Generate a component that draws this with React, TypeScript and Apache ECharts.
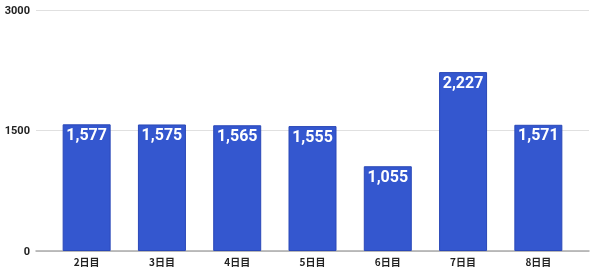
import React, { useEffect, useRef } from "react";
import * as echarts from "echarts";

const categories = ["2日目", "3日目", "4日目", "5日目", "6日目", "7日目", "8日目"];
const values = [1577, 1575, 1565, 1555, 1055, 2227, 1571];
const yTicks = [0, 1500, 3000];

export default function App() {
  const ref = useRef<HTMLDivElement>(null);
  useEffect(() => {
    const chart = echarts.init(ref.current!, null, { renderer: "svg" });
    chart.setOption({
      animation: false,
      grid: [
        { left: 49, right: 24, top: 10, bottom: 21 },
        { left: 36, right: 11, top: 10, bottom: 21 },
      ],
      xAxis: [
        {
          type: "category",
          data: categories,
          gridIndex: 0,
          axisLine: { show: false },
          axisTick: { show: false },
          axisLabel: {
            color: "#222",
            fontSize: 10,
            fontWeight: "bold",
            fontFamily: "Noto Sans CJK JP",
            margin: 5,
          },
        },
        {
          type: "value",
          gridIndex: 1,
          min: 0,
          max: 1,
          axisLine: { show: true, onZero: false, lineStyle: { color: "#aaa", width: 1.5 } },
          axisTick: { show: false },
          axisLabel: { show: false },
          splitLine: { show: false },
        },
      ],
      yAxis: [
        {
          type: "value",
          gridIndex: 0,
          min: yTicks[0],
          max: yTicks[yTicks.length - 1],
          interval: 1500,
          axisLabel: { show: false },
          splitLine: { show: false },
          axisLine: { show: false },
          axisTick: { show: false },
        },
        {
          type: "value",
          gridIndex: 1,
          min: yTicks[0],
          max: yTicks[yTicks.length - 1],
          interval: 1500,
          axisLine: { show: false },
          axisTick: { show: false },
          axisLabel: {
            color: "#222",
            fontSize: 11,
            fontWeight: "bold",
            fontFamily: "Roboto",
            margin: 6,
            formatter: (v: number) => String(v),
          },
          splitLine: { lineStyle: { color: "#e0e0e0", width: 1 } },
        },
      ],
      series: [
        {
          type: "bar",
          xAxisIndex: 0,
          yAxisIndex: 0,
          data: values,
          barWidth: 48,
          itemStyle: { color: "#3457cf", borderColor: "#2a48b8", borderWidth: 1 },
          label: {
            show: true,
            position: "insideTop",
            distance: 2,
            color: "#fff",
            fontSize: 16,
            fontWeight: "bold",
            fontFamily: "Roboto",
            formatter: (p: any) => Number(p.value).toLocaleString("en-US"),
          },
        },
      ],
    });
    return () => chart.dispose();
  }, []);
  return (
    <div
      ref={ref}
      style={{ position: "fixed", left: 0, top: 0, width: 600, height: 272 }}
    />
  );
}
